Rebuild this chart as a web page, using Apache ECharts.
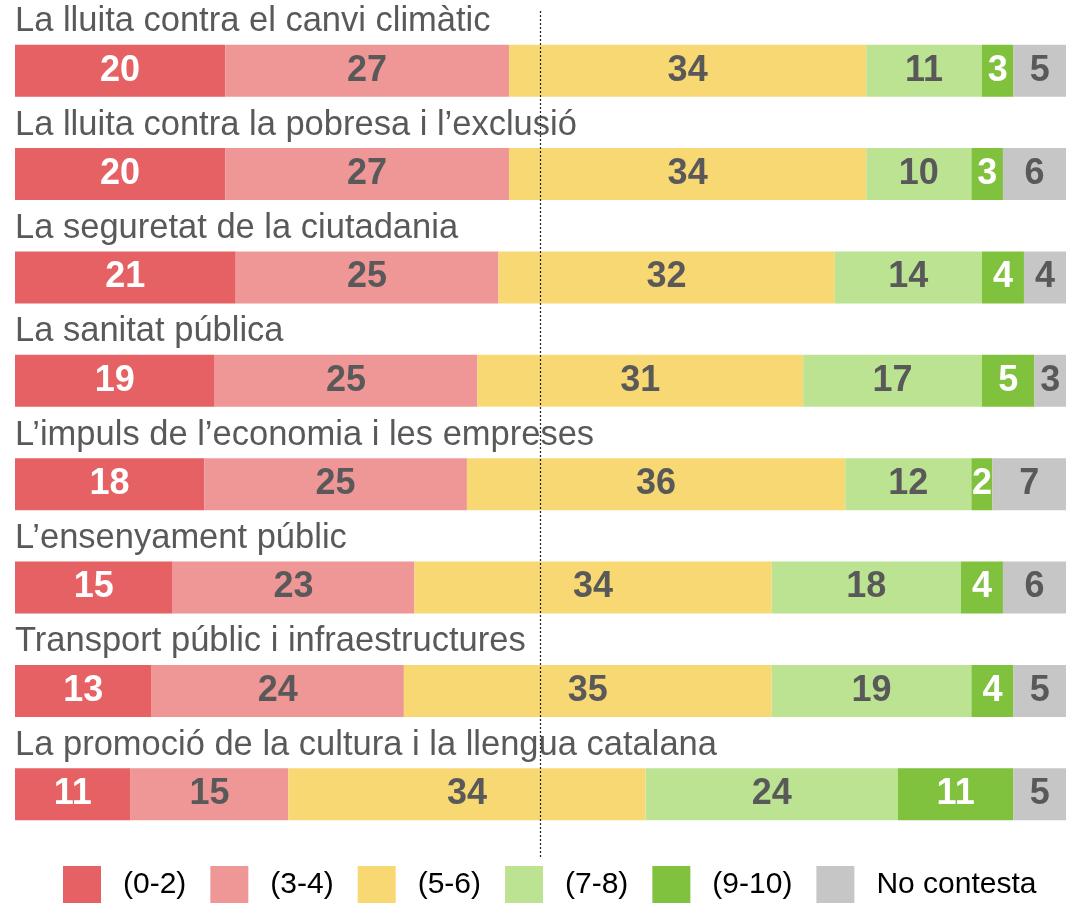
<!DOCTYPE html>
<html>
<head>
<meta charset="utf-8">
<script src="https://cdn.jsdelivr.net/npm/echarts@6/dist/echarts.min.js"></script>
<style>
  html, body { margin: 0; padding: 0; background: #fff; }
  #chart { width: 1066px; height: 903px; }
</style>
</head>
<body>
<div id="chart"></div>
<script>
const categories = [
  "La lluita contra el canvi climàtic",
  "La lluita contra la pobresa i l’exclusió",
  "La seguretat de la ciutadania",
  "La sanitat pública",
  "L’impuls de l’economia i les empreses",
  "L’ensenyament públic",
  "Transport públic i infraestructures",
  "La promoció de la cultura i la llengua catalana"
];
const seriesNames = ["(0-2)", "(3-4)", "(5-6)", "(7-8)", "(9-10)", "No contesta"];
const s02 = [20, 20, 21, 19, 18, 15, 13, 11];
const s34 = [27, 27, 25, 25, 25, 23, 24, 15];
const s56 = [34, 34, 32, 31, 36, 34, 35, 34];
const s78 = [11, 10, 14, 17, 12, 18, 19, 24];
const s910 = [3, 3, 4, 5, 2, 4, 4, 11];
const noContesta = [5, 6, 4, 3, 7, 6, 5, 5];
const midLine = 50;

const colors = ["#E66163", "#EF9696", "#F8D873", "#BCE392", "#80C13D", "#C6C6C6"];
const labelColors = ["#fff", "#595959", "#595959", "#595959", "#fff", "#595959"];
const values = [s02, s34, s56, s78, s910, noContesta];
const font = "'Liberation Sans', Arial, sans-serif";

const chart = echarts.init(document.getElementById("chart"));

const series = values.map((data, i) => ({
  name: seriesNames[i],
  type: "bar",
  stack: "total",
  data: data,
  barWidth: 52,
  itemStyle: { color: colors[i] },
  label: {
    show: true,
    position: "inside",
    formatter: "{c}",
    color: labelColors[i],
    fontFamily: font,
    fontWeight: "bold",
    fontSize: 36
  },
  emphasis: { disabled: true }
}));

// row titles sit above each bar
series.push({
  name: "titles",
  type: "scatter",
  symbolSize: 0,
  itemStyle: { opacity: 1 },
  data: categories.map(c => [0, c]),
  label: {
    show: true,
    position: "right",
    distance: 0,
    offset: [0, -49],
    formatter: p => p.value[1],
    color: "#595959",
    fontFamily: font,
    fontSize: 34.5
  },
  silent: true,
  z: 5
});

chart.setOption({
  animation: false,
  grid: { left: 15, right: 0, top: 19, bottom: 57 },
  xAxis: { type: "value", min: 0, max: 100, show: false },
  yAxis: {
    type: "category",
    inverse: true,
    data: categories,
    axisLine: { show: false },
    axisTick: { show: false },
    axisLabel: { show: false }
  },
  legend: {
    left: 63,
    top: 866,
    padding: 0,
    itemWidth: 38,
    itemHeight: 38,
    itemGap: 24,
    icon: "rect",
    data: seriesNames,
    textStyle: {
      color: "#000",
      fontFamily: font,
      fontSize: 30,
      padding: [0, 0, 0, 17]
    }
  },
  series: series
});

const lineX = chart.convertToPixel({ xAxisIndex: 0 }, midLine);
chart.setOption({
  graphic: [{
    type: "line",
    shape: { x1: lineX, y1: 11, x2: lineX, y2: 858 },
    style: { stroke: "#222", lineWidth: 1.2, lineDash: [2, 2] },
    z: 100
  }]
});
</script>
</body>
</html>
